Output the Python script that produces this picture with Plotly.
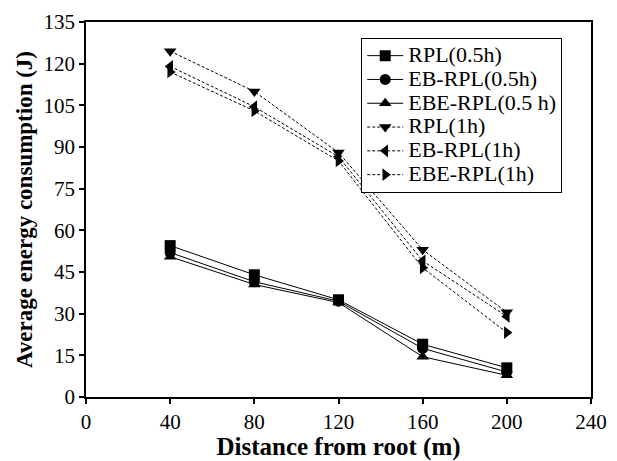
import plotly.graph_objects as go

distance = [40, 80, 120, 160, 200]
rpl_05 = [54.5, 44.0, 35.0, 19.0, 10.5]
eb_rpl_05 = [52.0, 41.5, 34.5, 17.5, 9.0]
ebe_rpl_05 = [50.5, 40.5, 34.0, 14.5, 7.8]
rpl_1 = [124.5, 110.0, 88.0, 53.0, 30.5]
eb_rpl_1 = [119.0, 104.5, 86.5, 49.0, 29.0]
ebe_rpl_1 = [117.0, 103.0, 85.0, 46.5, 23.2]

series = [
    ("RPL(0.5h)", rpl_05, "square", "solid"),
    ("EB-RPL(0.5h)", eb_rpl_05, "circle", "solid"),
    ("EBE-RPL(0.5 h)", ebe_rpl_05, "triangle-up", "solid"),
    ("RPL(1h)", rpl_1, "triangle-down", "3px,2px"),
    ("EB-RPL(1h)", eb_rpl_1, "triangle-left", "3px,2px"),
    ("EBE-RPL(1h)", ebe_rpl_1, "triangle-right", "3px,2px"),
]

fig = go.Figure()
for name, vals, sym, dash in series:
    fig.add_trace(go.Scatter(
        x=distance, y=vals, mode="lines+markers",
        name="<span style='font-size:22px'>" + name + "</span>",
        line=dict(color="black", width=1, dash=dash),
        marker=dict(symbol=sym, size=11, color="black"),
    ))

font = "Liberation Serif, Times New Roman, serif"
fig.update_layout(
    width=617, height=461,
    margin=dict(l=86, r=25, t=10, b=59),
    paper_bgcolor="white", plot_bgcolor="white",
    font=dict(family=font, color="black", size=18),
    showlegend=True,
    legend=dict(
        x=0.545, y=0.958, xanchor="left", yanchor="top",
        bgcolor="white", bordercolor="black", borderwidth=1,
        font=dict(family=font, size=16, color="black"),
        tracegroupgap=0, itemwidth=36,
    ),
    xaxis=dict(
        range=[0, 240], tickvals=[0, 40, 80, 120, 160, 200, 240],
        ticks="outside", ticklen=5, tickwidth=1.5, tickcolor="black",
        showline=True, linecolor="black", linewidth=1.5, mirror=True,
        showgrid=False, zeroline=False,
        tickfont=dict(family=font, size=21, color="black"),
        title=dict(text="<b>Distance from root (m)</b>", font=dict(family=font, size=25, color="black"), standoff=0),
    ),
    yaxis=dict(
        range=[0, 135], tickvals=[0, 15, 30, 45, 60, 75, 90, 105, 120, 135],
        ticks="outside", ticklen=5, tickwidth=1.5, tickcolor="black",
        showline=True, linecolor="black", linewidth=1.5, mirror=True,
        showgrid=False, zeroline=False,
        tickfont=dict(family=font, size=21, color="black"),
        title=dict(text="<b>Average energy consumption (J)</b>", font=dict(family=font, size=23, color="black"), standoff=4),
    ),
)

fig.write_html("out.html")
